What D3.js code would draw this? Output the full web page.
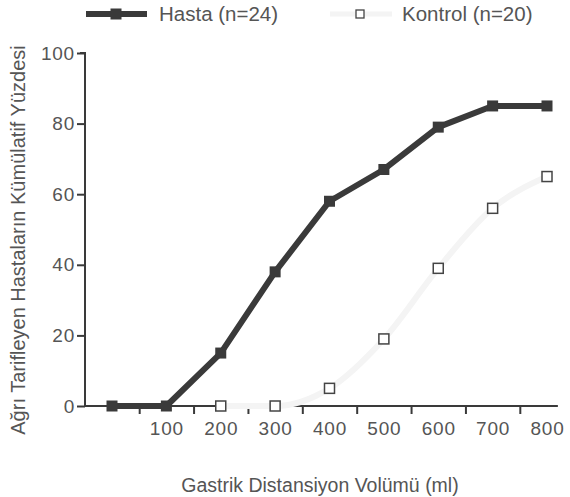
<!DOCTYPE html>
<html>
<head>
<meta charset="utf-8">
<script src="https://cdn.jsdelivr.net/npm/d3@7"></script>
<style>
  body { margin: 0; background: #fff; }
  svg text { font-family: "Liberation Sans", Arial, sans-serif; fill: #555; }
</style>
</head>
<body>
<div id="chart"></div>
<script>
"use strict"

// volumes (ml)
const volumes = [0, 100, 200, 300, 400, 500, 600, 700, 800]
const hasta = [0, 0, 15, 38, 58, 67, 79, 85, 85]
const kontrolVolumes = [200, 300, 400, 500, 600, 700, 800]
const kontrol = [0, 0, 5, 19, 39, 56, 65]
const xLabels = [100, 200, 300, 400, 500, 600, 700, 800]
const xTickMarks = [50, 150, 250, 350, 450, 550, 650, 750]
const yTicks = [0, 20, 40, 60, 80, 100]

const width = 570, height = 497

const svg = d3.select("#chart").append("svg")
  .attr("width", width)
  .attr("height", height)

const x = d3.scaleLinear().domain([0, 800]).range([112, 547])
const y = d3.scaleLinear().domain([0, 100]).range([406, 53])

const dark = "#3a3a3a"
const light = "#f4f4f4"

// y axis
const yAxis = svg.append("g")
  .attr("transform", `translate(85,0)`)
  .call(d3.axisLeft(y).tickValues(yTicks).tickSize(8).tickPadding(2))
yAxis.select(".domain").attr("d", `M-5,${y(100)}H0V${y(0) + 1}`)
yAxis.selectAll("line").attr("stroke", dark).attr("stroke-width", 2)
yAxis.select(".domain").attr("stroke", dark).attr("stroke-width", 2).attr("fill", "none")
yAxis.selectAll("text").attr("font-size", 19).attr("letter-spacing", 0.8).attr("fill", "#555")

// x axis: tick marks between the categories
const xAxis = svg.append("g")
  .attr("transform", `translate(0,${y(0)})`)
  .call(d3.axisBottom(x).tickValues(xTickMarks).tickSize(8).tickFormat(""))
xAxis.select(".domain").attr("d", `M${x(-50)},0H${x(820)}`)
  .attr("stroke", dark).attr("stroke-width", 2)
xAxis.selectAll("line").attr("stroke", dark).attr("stroke-width", 2)

const xLab = svg.append("g")
  .attr("transform", `translate(0,${y(0)})`)
  .call(d3.axisBottom(x).tickValues(xLabels).tickSize(0).tickPadding(16))
xLab.select(".domain").remove()
xLab.selectAll("text").attr("font-size", 19).attr("letter-spacing", 0.8).attr("fill", "#555")

// axis titles
svg.append("text")
  .attr("x", 320).attr("y", 492)
  .attr("text-anchor", "middle")
  .attr("font-size", 19.5)
  .text("Gastrik Distansiyon Volümü (ml)")

svg.append("text")
  .attr("transform", `translate(25,240) rotate(-90)`)
  .attr("text-anchor", "middle")
  .attr("font-size", 20)
  .text("Ağrı Tarifleyen Hastaların Kümülatif Yüzdesi")

// kontrol line (very light, drawn over the axis)
svg.append("path")
  .attr("d", d3.line().curve(d3.curveMonotoneX)(kontrolVolumes.map((v, i) => [x(v), y(kontrol[i])])))
  .attr("fill", "none")
  .attr("stroke", light)
  .attr("stroke-width", 6)

svg.selectAll("rect.kontrol")
  .data(kontrolVolumes.map((v, i) => ({ v, p: kontrol[i] })))
  .enter()
  .append("rect")
  .attr("class", "kontrol")
  .attr("x", (d) => x(d.v) - 5)
  .attr("y", (d) => y(d.p) - 5)
  .attr("width", 10).attr("height", 10)
  .attr("fill", "#fff")
  .attr("stroke", "#444")
  .attr("stroke-width", 1.5)

// hasta line
svg.append("path")
  .attr("d", d3.line()(volumes.map((v, i) => [x(v), y(hasta[i])])))
  .attr("fill", "none")
  .attr("stroke", dark)
  .attr("stroke-width", 6)
  .attr("stroke-linejoin", "round")

svg.selectAll("rect.hasta")
  .data(volumes.map((v, i) => ({ v, p: hasta[i] })))
  .enter()
  .append("rect")
  .attr("class", "hasta")
  .attr("x", (d) => x(d.v) - 5.5)
  .attr("y", (d) => y(d.p) - 5.5)
  .attr("width", 11).attr("height", 11)
  .attr("fill", dark)

// legend
const legend = svg.append("g")
legend.append("line")
  .attr("x1", 86).attr("x2", 147).attr("y1", 14).attr("y2", 14)
  .attr("stroke", dark).attr("stroke-width", 6)
legend.append("rect")
  .attr("x", 110.5).attr("y", 8.5).attr("width", 11).attr("height", 11)
  .attr("fill", dark)
legend.append("text")
  .attr("x", 159).attr("y", 21)
  .attr("font-size", 20.5)
  .text("Hasta (n=24)")

legend.append("line")
  .attr("x1", 330).attr("x2", 392).attr("y1", 14).attr("y2", 14)
  .attr("stroke", light).attr("stroke-width", 5)
legend.append("rect")
  .attr("x", 356).attr("y", 10).attr("width", 8).attr("height", 8)
  .attr("fill", "#fff").attr("stroke", "#444").attr("stroke-width", 1.3)
legend.append("text")
  .attr("x", 402).attr("y", 21)
  .attr("font-size", 20.5)
  .text("Kontrol (n=20)")
</script>
</body>
</html>
